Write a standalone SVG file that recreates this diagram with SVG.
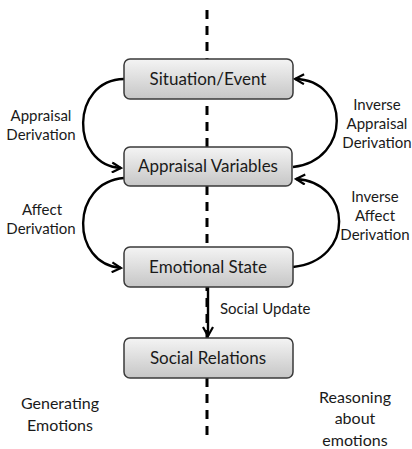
<svg xmlns="http://www.w3.org/2000/svg" width="412" height="449" viewBox="0 0 412 449">
<defs>
<linearGradient id="g" x1="0" y1="0" x2="0" y2="1">
<stop offset="0" stop-color="#f4f4f4"/>
<stop offset="1" stop-color="#c6c6c6"/>
</linearGradient>
<marker id="ah" viewBox="0 0 12 12" refX="10" refY="6" markerWidth="12" markerHeight="12" markerUnits="userSpaceOnUse" orient="auto">
<path d="M1,1 L10,6 L1,11" fill="none" stroke="#000" stroke-width="2.2"/>
</marker>
</defs>
<style>
.box{fill:url(#g);stroke:#3a3a3a;stroke-width:1.5}
.nt{font-family:Lato,"Liberation Sans",sans-serif;font-size:17px;fill:#1a1a1a;text-anchor:middle}
.lb{font-family:Lato,"Liberation Sans",sans-serif;font-size:15px;fill:#1a1a1a;text-anchor:middle}
.c{fill:none;stroke:#000;stroke-width:2.4}
</style>
<rect width="412" height="449" fill="#fff"/>
<line x1="207" y1="10" x2="207" y2="436" stroke="#000" stroke-width="3" stroke-dasharray="9,7"/>
<g id="connectors">
<path class="c" d="M124,79 C70,80 70,165 121,168" marker-end="url(#ah)"/>
<path class="c" d="M124,178 C70,182 70,264 121,268" marker-end="url(#ah)"/>
<path class="c" d="M293,167 C352,160 350,80 295,79" marker-end="url(#ah)"/>
<path class="c" d="M293,267 C356,260 352,182 296,179" marker-end="url(#ah)"/>
<line class="c" x1="208" y1="287" x2="208" y2="336" marker-end="url(#ah)"/>
<text class="lb" x="41" y="121">Appraisal</text>
<text class="lb" x="41" y="140">Derivation</text>
<text class="lb" x="42" y="215">Affect</text>
<text class="lb" x="41" y="234">Derivation</text>
<text class="lb" x="377" y="110">Inverse</text>
<text class="lb" x="377" y="129">Appraisal</text>
<text class="lb" x="377" y="148">Derivation</text>
<text class="lb" x="375" y="202">Inverse</text>
<text class="lb" x="375" y="221">Affect</text>
<text class="lb" x="375" y="240">Derivation</text>
<text class="lb" x="220" y="314" style="text-anchor:start">Social Update</text>
</g>
<g id="situation"><rect class="box" x="124" y="59" width="169" height="40" rx="6"/><text class="nt" x="208" y="85">Situation/Event</text></g>
<g id="appraisal"><rect class="box" x="124" y="147" width="168" height="39" rx="6"/><text class="nt" x="208" y="172">Appraisal Variables</text></g>
<g id="emotional"><rect class="box" x="124" y="247" width="169" height="40" rx="6"/><text class="nt" x="208" y="273">Emotional State</text></g>
<g id="social"><rect class="box" x="124" y="338" width="169" height="40" rx="6"/><text class="nt" x="208" y="364">Social Relations</text></g>
<text class="lb" x="60" y="409" style="font-size:16px">Generating</text>
<text class="lb" x="60" y="431" style="font-size:16px">Emotions</text>
<text class="lb" x="355" y="403" style="font-size:16px">Reasoning</text>
<text class="lb" x="355" y="424" style="font-size:16px">about</text>
<text class="lb" x="355" y="446" style="font-size:16px">emotions</text>
</svg>
